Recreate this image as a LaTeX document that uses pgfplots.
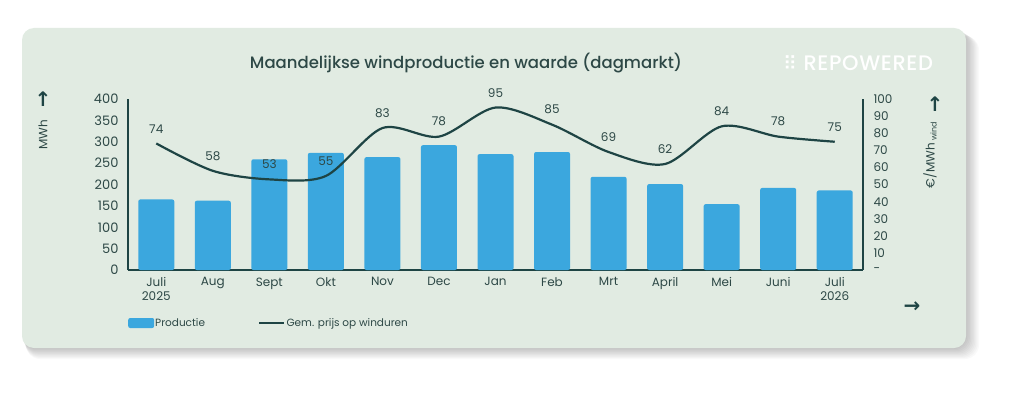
\documentclass[border=0pt]{standalone}
\usepackage{pgfplots}
\pgfplotsset{compat=1.18}
\usepackage{fontspec}
\setmainfont{Poppins}
\newfontfamily\medfont{Poppins}[UprightFont=* Medium]
\newfontfamily\symfont{DejaVu Sans}
\definecolor{bg}{RGB}{225,235,226}
\definecolor{barc}{RGB}{59,167,222}
\definecolor{dk}{RGB}{30,68,68}
\definecolor{tx}{RGB}{45,72,70}
\begin{document}
\begin{tikzpicture}[x=1pt,y=1pt]
\fill[white] (0,0) rectangle (1024,405);
\foreach \i in {1,...,10}{
  \fill[black,opacity=0.025,rounded corners=14pt] (22+\i*0.4,57-\i*1.1) rectangle (966+\i*1.3,377-\i*0.8);
}
\fill[bg, rounded corners=12pt] (22,57) rectangle (966,377);
\node[tx, font=\medfont\fontsize{16.5}{20}\selectfont] at (466,342) {Maandelijkse windproductie en waarde (dagmarkt)};
\node[white, font=\medfont\fontsize{21}{24}\selectfont\addfontfeatures{LetterSpace=3}, anchor=west] at (800,342) {REPOWERED};
\node[white, font=\symfont\fontsize{19}{19}\selectfont] at (790,342) {⠿};
\node[tx, rotate=90, font=\fontsize{12}{14}\selectfont] at (43,270) {MWh};
\node[dk, font=\symfont\bfseries\fontsize{20}{20}\selectfont] at (43,306) {↑};
\node[tx, rotate=90, font=\fontsize{12}{14}\selectfont] at (930,250) {€/MWh\,\raisebox{-2pt}{\fontsize{8}{9}\selectfont wind}};
\node[dk, font=\symfont\bfseries\fontsize{20}{20}\selectfont] at (935,301) {↑};
\node[dk, font=\symfont\bfseries\fontsize{20}{20}\selectfont] at (912,98) {→};
\begin{axis}[
  at={(128pt,135pt)}, anchor=south west, scale only axis,
  width=735pt, height=171pt,
  /pgf/number format/assume math mode=true,
  xmin=-0.5, xmax=12.5, ymin=0, ymax=400,
  ytick={0,50,...,400},
  xtick={0,...,12},
  xticklabels={{Juli\\2025},Aug,Sept,Okt,Nov,Dec,Jan,Feb,Mrt,April,Mei,Juni,{Juli\\2026}},
  xticklabel style={align=center, font=\fontsize{12}{14}\selectfont, tx, yshift=-4pt},
  yticklabel style={font=\fontsize{13}{15}\selectfont, tx, xshift=-6pt},
  axis x line*=bottom, axis y line*=left,
  axis line style={dk, line width=2pt, -},
  major tick length=0pt,
  ybar, bar width=36pt,
  legend style={at={(0,-0.31)}, anchor=west, draw=none, fill=none,
    legend columns=2, font=\fontsize{10.5}{13}\selectfont, text=tx,
    /tikz/every even column/.append style={column sep=52pt},
    nodes={inner sep=1pt}, xshift=-3pt},
  legend cell align=left,
]
\addplot[fill=barc, draw=none, rounded corners=2pt,
  legend image code/.code={\fill[barc, rounded corners=2pt] (0pt,-5pt) rectangle (26pt,5pt);}]
  coordinates {(0,165) (1,162) (2,259) (3,274) (4,264) (5,292) (6,271) (7,276) (8,218) (9,201) (10,154) (11,192) (12,186)};
\addlegendentry{Productie}
\addlegendimage{legend image code/.code={\draw[dk, line width=2.5pt] (0pt,0pt) -- (25pt,0pt);}}
\addlegendentry{Gem. prijs op winduren}
\end{axis}
\begin{axis}[
  at={(128pt,135pt)}, anchor=south west, scale only axis,
  width=735pt, height=171pt,
  /pgf/number format/assume math mode=true,
  xmin=-0.5, xmax=12.5, ymin=0, ymax=100,
  ytick={0,10,...,100},
  yticklabels={-,10,20,30,40,50,60,70,80,90,100},
  yticklabel style={font=\fontsize{12}{14}\selectfont, tx, anchor=west, xshift=7pt},
  axis x line=none, axis y line*=right,
  axis line style={dk, line width=2pt, -},
  major tick length=0pt,
]
\addplot[dk, line width=2.2pt, smooth, mark=none,
  nodes near coords,
  every node near coord/.append style={font=\fontsize{12}{14}\selectfont, text=tx, yshift=6pt}]
  coordinates {(0,74) (1,58) (2,53) (3,55) (4,83) (5,78) (6,95) (7,85) (8,69) (9,62) (10,84) (11,78) (12,75)};
\end{axis}
\end{tikzpicture}
\end{document}
